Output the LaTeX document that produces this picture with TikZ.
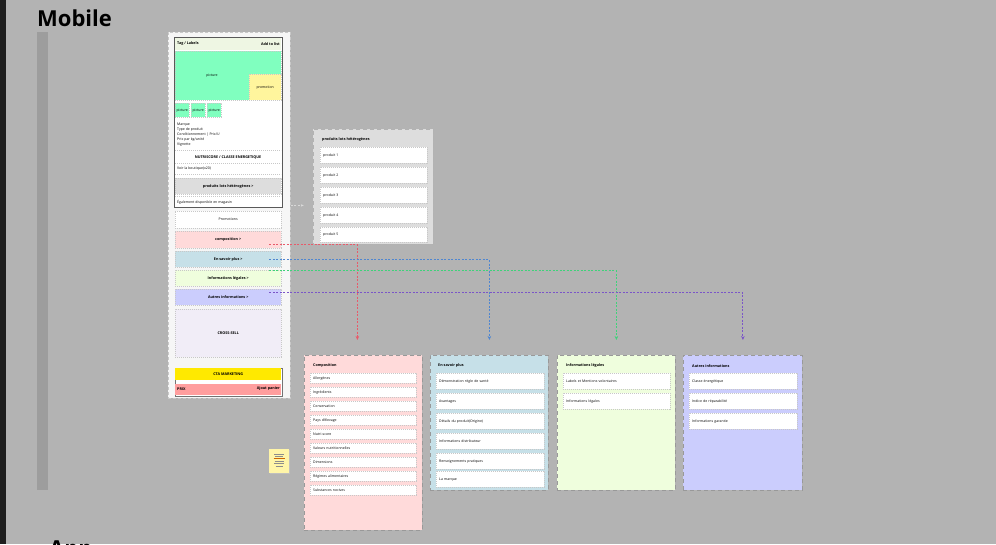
\documentclass[tikz,border=0pt]{standalone}
\usepackage{fontspec}
\setmainfont{Open Sans}
\usetikzlibrary{arrows.meta,calc}
\definecolor{bg}{HTML}{B3B3B3}
\definecolor{strip}{HTML}{1E1E1E}
\definecolor{vbar}{HTML}{9D9D9D}
\definecolor{cardfill}{HTML}{F6F6F6}
\definecolor{prodfill}{HTML}{DDDDDD}
\definecolor{pinkfill}{HTML}{FFDADA}
\definecolor{bluefill}{HTML}{C6E0E8}
\definecolor{greenfill}{HTML}{EFFEDD}
\definecolor{lavfill}{HTML}{CBCDFD}
\definecolor{crossfill}{HTML}{F1EDF7}
\definecolor{ctafill}{HTML}{FFE900}
\definecolor{pricefill}{HTML}{FF9E9E}
\definecolor{picgreen}{HTML}{80FFBF}
\definecolor{promoyellow}{HTML}{FFF59D}
\definecolor{headfill}{HTML}{EEF6E3}
\definecolor{dashgray}{HTML}{999999}
\definecolor{itemgray}{HTML}{C8C8C8}
\definecolor{redc}{HTML}{E85A6A}
\definecolor{bluec}{HTML}{4F86D0}
\definecolor{greenc}{HTML}{3FD27A}
\definecolor{purplec}{HTML}{7A55C8}
\definecolor{notefill}{HTML}{FFF5A8}
\begin{document}
\begin{tikzpicture}[x=1pt,y=-1pt,
  tinyf/.style={font=\fontsize{3.5}{5}\selectfont},
  titlef/.style={font=\fontsize{3.7}{4.4}\selectfont\bfseries},
  panel/.style={draw=dashgray, dash pattern=on 4pt off 3pt, line width=0.8pt, anchor=north west, inner sep=0pt},
  item/.style={draw=itemgray, dash pattern=on 1.2pt off 0.8pt, line width=0.4pt, fill=white, anchor=north west,
    inner xsep=3pt, inner ysep=0pt, text width=#1, align=left, tinyf},
  btn/.style={draw=itemgray, dash pattern=on 1.2pt off 0.8pt, line width=0.4pt, anchor=north west,
    inner sep=0pt, minimum width=106pt, tinyf},
  cline/.style={draw=#1, dash pattern=on 2pt off 1.5pt, line width=1.1pt, -{Stealth[length=4pt,width=3.5pt]}},
  sep/.style={draw=itemgray, dash pattern=on 1.2pt off 0.8pt, line width=0.4pt},
  bigtitle/.style={font=\fontsize{22}{26}\selectfont\bfseries, anchor=base west, inner sep=0pt}
]
\useasboundingbox (0,0) rectangle (996,544);
\fill[bg] (0,0) rectangle (996,544);
\fill[strip] (0,0) rectangle (6,544);
\fill[vbar] (37,32) rectangle (48,490);

\node[bigtitle] (mobile) at (37,26) {Mobile};
\node[bigtitle] (app) at (49,556) {App};

% ---------- mobile card ----------
\node[draw=itemgray, fill=cardfill, dash pattern=on 3pt off 2pt, line width=0.8pt, anchor=north west, inner sep=0pt,
  minimum width=122pt, minimum height=366pt] (card) at (168,32) {};
\node[draw=black!65, line width=0.5pt, fill=white, anchor=north west, inner sep=0pt,
  minimum width=108pt, minimum height=170pt] (frame) at (174,37) {};
\node[fill=headfill, anchor=north west, inner sep=0pt, minimum width=106pt, minimum height=12pt] (head) at (175,38) {};
\node[titlef, anchor=west, inner sep=0pt] (tag) at (177,44) {Tag / Labels};
\node[titlef, anchor=east, inner sep=0pt] (addlist) at (280,44) {Add to list};
\node[btn, fill=picgreen, minimum height=49pt] (pic) at (175,51) {};
\node[tinyf, inner sep=0pt] (pictxt) at (212,76) {picture};
\node[btn, fill=promoyellow, minimum width=32pt, minimum height=26pt] (promo) at (249,74) {promotion};
\node[btn, fill=picgreen, minimum width=14pt, minimum height=14pt] (th1) at (175,103) {picture};
\node[btn, fill=picgreen, minimum width=14pt, minimum height=14pt] (th2) at (191,103) {picture};
\node[btn, fill=picgreen, minimum width=14pt, minimum height=14pt] (th3) at (207,103) {picture};
\node[tinyf, anchor=north west, inner sep=0pt, align=left] (infos) at (177,122.5)
  {Marque\\Type de produit\\Conditionnement | Prix/U\\Prix par kg/unité\\Vignette};
\draw[sep] (175,150) -- (281,150);
\node[titlef, inner sep=0pt] (nutri) at (228,157) {NUTRISCORE / CLASSE ENERGETIQUE};
\draw[sep] (175,163) -- (281,163);
\node[tinyf, anchor=west, inner sep=0pt] (voir) at (177,168.5) {Voir la boutique(x20)};
\draw[sep] (175,174) -- (281,174);
\node[btn, fill=prodfill, minimum height=16pt, font=\fontsize{3.7}{4.4}\selectfont\bfseries] (lots) at (175,178) {produits lots hétérogènes >};
\draw[sep] (175,196) -- (281,196);
\node[tinyf, anchor=west, inner sep=0pt] (dispo) at (177,202) {Également disponible en magasin};

\node[btn, fill=white, minimum height=17pt] (promobtn) at (175,211) {Promotions};
\node[btn, fill=pinkfill, minimum height=17pt, font=\fontsize{3.7}{4.4}\selectfont\bfseries] (compbtn) at (175,231) {composition >};
\node[btn, fill=bluefill, minimum height=16pt, font=\fontsize{3.7}{4.4}\selectfont\bfseries] (savbtn) at (175,251) {En savoir plus >};
\node[btn, fill=greenfill, minimum height=16pt, font=\fontsize{3.7}{4.4}\selectfont\bfseries] (legbtn) at (175,270) {Informations légales >};
\node[btn, fill=lavfill, minimum height=16pt, font=\fontsize{3.7}{4.4}\selectfont\bfseries] (autbtn) at (175,289) {Autres informations >};
\node[btn, fill=crossfill, minimum height=48pt, font=\fontsize{3.7}{4.4}\selectfont\bfseries] (cross) at (175,309) {CROSS-SELL};
\node[draw=black!55, line width=0.5pt, fill=white, anchor=north west, inner sep=0pt,
  minimum width=107pt, minimum height=28pt] (ctaframe) at (174.5,367.5) {};
\node[fill=ctafill, anchor=north west, inner sep=0pt, minimum width=106pt, minimum height=11.5pt,
  font=\fontsize{3.7}{4.4}\selectfont\bfseries] (cta) at (175,368) {CTA MARKETING};
\node[fill=pricefill, anchor=north west, inner sep=0pt, minimum width=106pt, minimum height=11.5pt] (price) at (175,383.5) {};
\node[titlef, anchor=west, inner sep=0pt] (prix) at (177,389) {PRIX};
\node[titlef, anchor=east, inner sep=0pt] (ajout) at (280,389) {Ajout panier};

% ---------- products box ----------
\node[panel, fill=prodfill, draw=black!30, minimum width=120pt, minimum height=115pt] (prod) at (313,129) {};
\node[titlef, anchor=west, inner sep=0pt] (prodtitle) at (322,140) {produits lots hétérogènes};
\node[item=101pt, minimum height=16pt] (p1) at (320,147) {produit 1};
\node[item=101pt, minimum height=16pt] (p2) at (320,167) {produit 2};
\node[item=101pt, minimum height=16pt] (p3) at (320,187) {produit 3};
\node[item=101pt, minimum height=16pt] (p4) at (320,207) {produit 4};
\node[item=101pt, minimum height=15pt] (p5) at (320,227) {produit 5};

% ---------- composition ----------
\node[panel, fill=pinkfill, minimum width=118pt, minimum height=175pt] (comp) at (304,355) {};
\node[titlef, anchor=west, inner sep=0pt] (comptitle) at (313,366) {Composition};
\foreach \t [count=\i from 0] in {Allergènes,Ingrédients,Conservation,Pays d'élevage,Nutri-score,Valeurs nutritionnelles,Dimensions,Régimes alimentaires,Substances nocives}{
  \node[item=100pt, minimum height=10pt] (c\i) at (310,{373+14*\i}) {\t};
}

% ---------- en savoir plus ----------
\node[panel, fill=bluefill, minimum width=118pt, minimum height=135pt] (sav) at (430,355) {};
\node[titlef, anchor=west, inner sep=0pt] (savtitle) at (438,366) {En savoir plus};
\node[item=102pt, minimum height=16pt] (s1) at (436,373) {Démonstration règle de santé};
\node[item=102pt, minimum height=16pt] (s2) at (436,393) {Avantages};
\node[item=102pt, minimum height=16pt] (s3) at (436,413) {Détails du produit(Origine)};
\node[item=102pt, minimum height=16pt] (s4) at (436,433) {Informations distributeur};
\node[item=102pt, minimum height=16pt] (s5) at (436,453) {Renseignements pratiques};
\node[item=102pt, minimum height=16pt] (s6) at (436,471) {La marque};

% ---------- informations legales ----------
\node[panel, fill=greenfill, minimum width=118pt, minimum height=135pt] (leg) at (557,355) {};
\node[titlef, anchor=west, inner sep=0pt] (legtitle) at (566,366) {Informations légales};
\node[item=101pt, minimum height=16pt] (l1) at (563,373) {Labels et Mentions volontaires};
\node[item=101pt, minimum height=16pt] (l2) at (563,393) {Informations légales};

% ---------- autres informations ----------
\node[panel, fill=lavfill, minimum width=119pt, minimum height=135pt] (aut) at (683,355) {};
\node[titlef, anchor=west, inner sep=0pt] (auttitle) at (692,366) {Autres informations};
\node[item=102pt, minimum height=16pt] (a1) at (689,373) {Classe énergétique};
\node[item=102pt, minimum height=16pt] (a2) at (689,393) {Indice de réparabilité};
\node[item=102pt, minimum height=16pt] (a3) at (689,413) {Informations garantie};

% ---------- sticky note ----------
\fill[black!25] (270,450) rectangle (290,474);
\node[fill=notefill, anchor=north west, inner sep=0pt, minimum width=20pt, minimum height=24pt] (note) at (269,449) {};
\foreach \yy/\ww/\cc in {454/10/black!45,456.5/8/black!45,458.5/11/orange!80!black,461/9/black!45,463.5/10/black!45,466/7/black!45}{
  \draw[\cc, line width=0.5pt] ($(note.north)+(-\ww/2,\yy-449)$) -- ++(\ww,0);
}

% ---------- connectors ----------
\draw[draw=white!85!black, dash pattern=on 2pt off 1.5pt, line width=0.6pt, -{Stealth[length=3pt,width=2.5pt]}]
  ([yshift=10pt]card.east) -- ++(13,0);
\draw[cline=redc] ([xshift=-12pt,yshift=-5pt]compbtn.east) -| ([xshift=-6pt,yshift=15pt]comp.north);
\draw[cline=bluec] ([xshift=-12pt,yshift=-0.5pt]savbtn.east) -| ([yshift=15pt]sav.north);
\draw[cline=greenc] ([xshift=-12pt,yshift=7.5pt]legbtn.east) -| ([yshift=15pt]leg.north);
\draw[cline=purplec] ([xshift=-12pt,yshift=4.5pt]autbtn.east) -| ([yshift=15pt]aut.north);
\end{tikzpicture}
\end{document}
